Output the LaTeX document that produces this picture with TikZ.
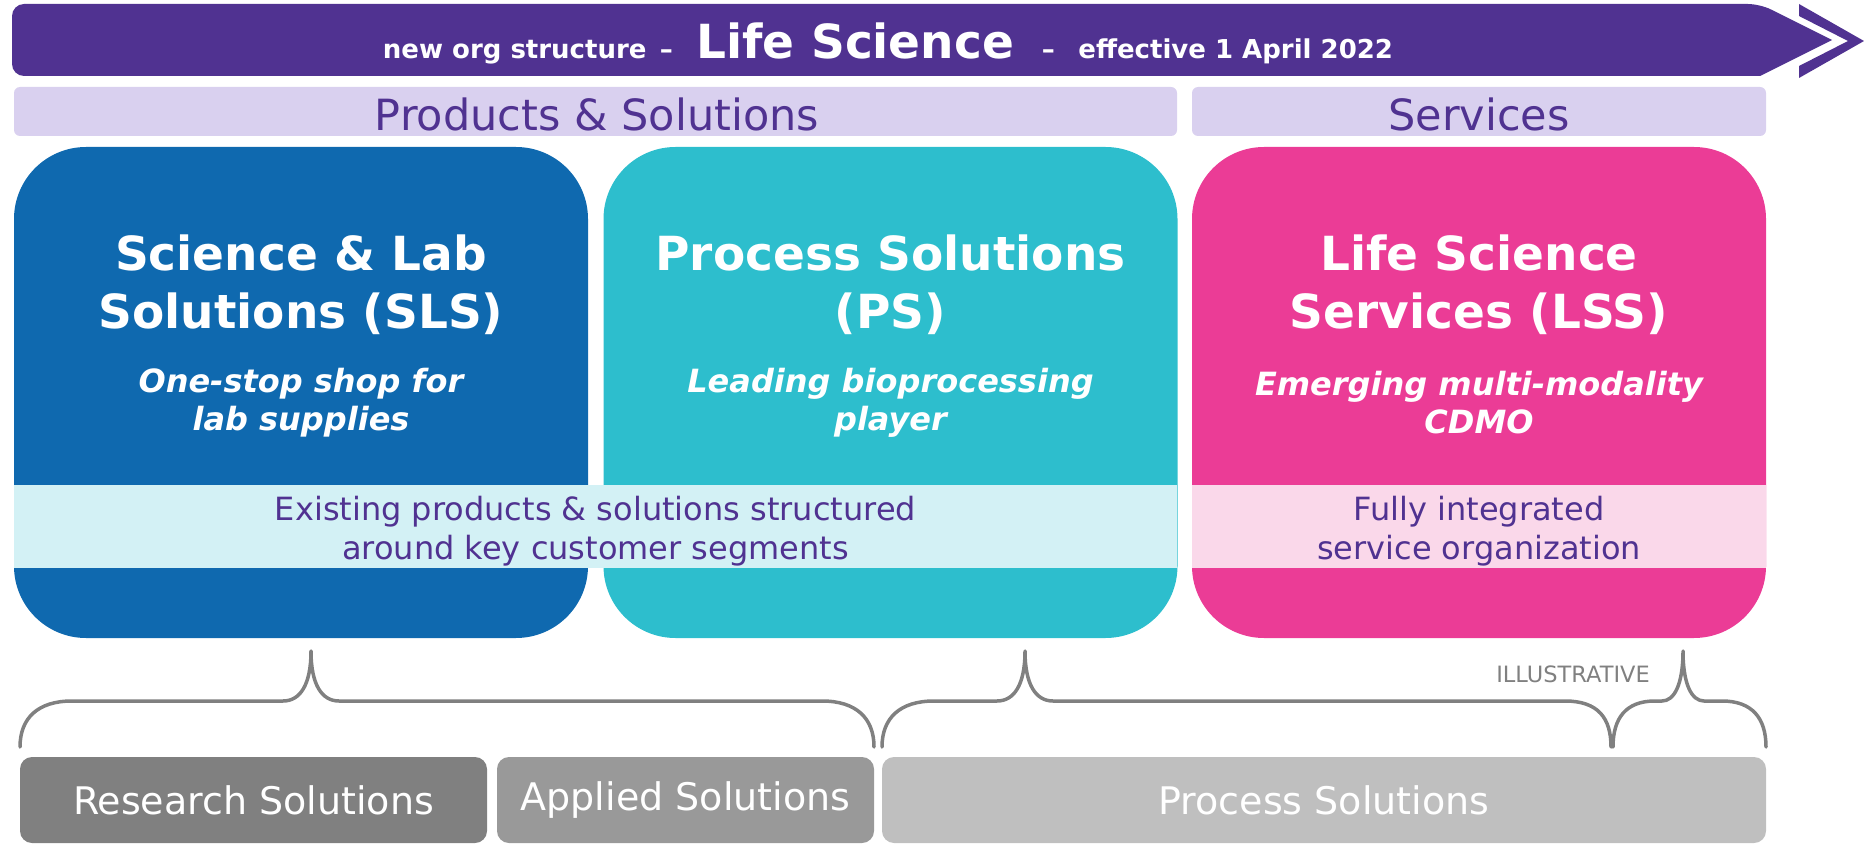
\documentclass[tikz,border=0pt]{standalone}
\usepackage{fontspec}
\setmainfont{DejaVu Sans}
\definecolor{mpurple}{HTML}{503291}
\definecolor{mlav}{HTML}{D9D0EF}
\definecolor{mblue}{HTML}{0F69AF}
\definecolor{mteal}{HTML}{2DBECD}
\definecolor{mpink}{HTML}{EB3C96}
\definecolor{mcyanlt}{HTML}{D3F1F5}
\definecolor{mpinklt}{HTML}{FAD8EA}
\definecolor{gdark}{HTML}{808080}
\definecolor{gmid}{HTML}{999999}
\definecolor{glight}{HTML}{BFBFBF}
\definecolor{gbrace}{HTML}{808080}
\begin{document}
\begin{tikzpicture}[x=1pt,y=-1pt,
  mainbox/.style={inner sep=0pt,outer sep=0pt,rounded corners=72pt,minimum width=574pt,minimum height=491pt},
  headband/.style={inner sep=0pt,outer sep=0pt,rounded corners=6pt,fill=mlav,minimum height=49pt},
  headtext/.style={text=mpurple,font=\fontsize{43}{48}\selectfont,inner sep=0pt},
  lowband/.style={inner sep=0pt,outer sep=0pt,minimum height=83pt},
  lowtext/.style={text=mpurple,align=center,font=\fontsize{32}{39}\selectfont,inner sep=0pt},
  title/.style={text=white,align=center,font=\bfseries\fontsize{47}{58}\selectfont},
  subtitle/.style={text=white,align=center,font=\bfseries\itshape\fontsize{32}{38}\selectfont},
  botbox/.style={inner sep=0pt,outer sep=0pt,rounded corners=12pt,minimum height=86pt,text=white,font=\fontsize{38}{44}\selectfont},
  brace/.style={draw=gbrace,line width=3.5pt,line cap=round,line join=round}
]
\useasboundingbox (0,0) rectangle (1864,845);
% banner
\fill[mpurple] (1760,4) -- (1832,40) -- (1760,76) [rounded corners=12pt] -- (12,76) -- (12,4) -- cycle;
\fill[mpurple] (1799,4) -- (1864,41) -- (1799,78) -- (1799,66) -- (1848,41) -- (1799,16) -- cycle;
\node[anchor=base,text=white,font=\bfseries,inner sep=0pt] (bannertext) at (888,59)
  {\fontsize{26}{30}\selectfont new org structure \,–\;\; \fontsize{47}{50}\selectfont Life Science\fontsize{26}{30}\selectfont\;\;\, –\;\; effective 1 April 2022};
% header bands
\node[headband,minimum width=1163pt] (ps-head) at (595.5,111.5) {};
\node[headband,minimum width=574pt] (serv-head) at (1479,111.5) {};
\node[headtext] (ps-head-t) at (597,114) {Products \& Solutions};
\node[headtext] (serv-head-t) at (1479,114) {Services};
% main boxes
\node[mainbox,fill=mblue] (sls) at (301,392.5) {};
\node[mainbox,fill=mteal] (ps) at (890.5,392.5) {};
\node[mainbox,fill=mpink] (lss) at (1479,392.5) {};
% titles
\node[title] (sls-t) at (301,285) {Science \& Lab\\Solutions (SLS)};
\node[title] (ps-t) at (890.5,285) {Process Solutions\\(PS)};
\node[title] (lss-t) at (1479,285) {Life Science\\Services (LSS)};
\node[subtitle] (sls-s) at (301,403) {One-stop shop for\\lab supplies};
\node[subtitle] (ps-s) at (890.5,403) {Leading bioprocessing\\player};
\node[subtitle] (lss-s) at (1479,403) {Emerging multi-modality\\CDMO};
% lower bands
\node[lowband,fill=mcyanlt,minimum width=1163pt] (exist) at (595.5,526.5) {};
\node[lowband,fill=mpinklt,minimum width=574pt] (integ) at (1479,526.5) {};
\node[lowtext] (exist-t) at (595.5,531) {Existing products \& solutions structured\\around key customer segments};
\node[lowtext] (integ-t) at (1479,531) {Fully integrated\\service organization};
% braces
\draw[brace] (20,747) .. controls (20,718) and (38,701) .. (72,701) -- (283,701)
  .. controls (300,701) and (311,685) .. (311,651)
  .. controls (311,685) and (322,701) .. (339,701) -- (822,701)
  .. controls (856,701) and (874,718) .. (874,747);
\draw[brace] (882,747) .. controls (882,718) and (900,701) .. (934,701) -- (997,701)
  .. controls (1014,701) and (1025,685) .. (1025,651)
  .. controls (1025,685) and (1036,701) .. (1053,701) -- (1565,701)
  .. controls (1598,701) and (1611,718) .. (1611,747);
\draw[brace] (1613,747) .. controls (1613,718) and (1626,701) .. (1655,701) -- (1662,701)
  .. controls (1674,701) and (1683,685) .. (1683,651)
  .. controls (1683,685) and (1692,701) .. (1704,701) -- (1722,701)
  .. controls (1752,701) and (1766,718) .. (1766,747);
\node[text=gdark,font=\fontsize{22.5}{24}\selectfont] (illus) at (1573,674) {ILLUSTRATIVE};
% bottom boxes
\node[botbox,fill=gdark,minimum width=467pt] (research) at (253.5,800) {Research Solutions};
\node[botbox,fill=gmid,minimum width=377pt] (applied) at (685.5,800) {Applied Solutions};
\node[botbox,fill=glight,minimum width=884pt] (process) at (1324,800) {Process Solutions};
\end{tikzpicture}
\end{document}
